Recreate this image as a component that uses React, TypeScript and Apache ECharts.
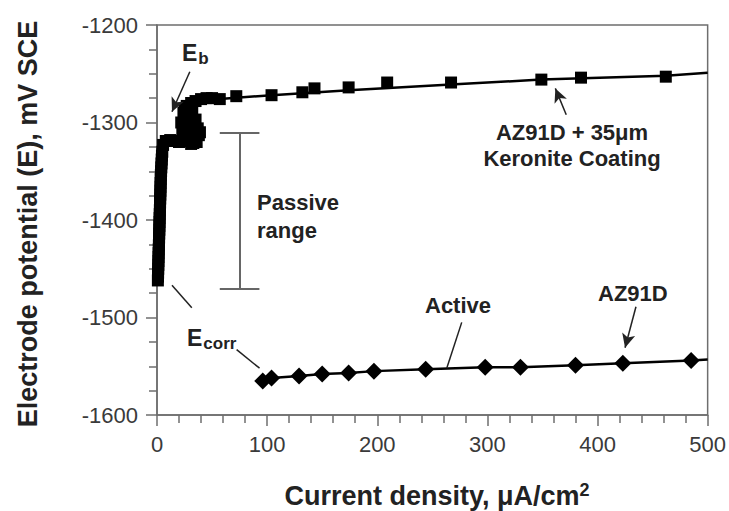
import React, { useEffect, useRef } from "react";
import * as echarts from "echarts";

// Coating (AZ91D + 35µm Keronite) measured points
const coatingCurrent = [
  0.8, 0.9, 1.0, 1.1, 1.2, 1.3, 1.4, 1.5, 1.6, 1.7, 1.8, 1.9, 2.0, 2.1, 2.2, 2.3, 2.4, 2.5,
  2.6, 2.7, 2.8, 2.9, 3.0, 3.1, 3.2, 3.3, 3.4, 3.5, 3.7, 3.9, 4.1, 4.3, 4.5, 4.8,
  5.5, 8, 12, 16, 20, 25, 30, 35, 38, 39, 37, 33, 29, 26, 24, 25, 27, 31, 35, 40, 45, 50,
  22, 25, 30, 33, 28, 35, 32, 23, 36, 31,
  57, 72, 104, 132, 143, 174, 209, 267, 349, 385, 462,
];
const coatingPotential = [
  -1462, -1458, -1454, -1450, -1446, -1442, -1438, -1434, -1430, -1426, -1422, -1418, -1414, -1410, -1406, -1402, -1398, -1394,
  -1390, -1386, -1382, -1378, -1374, -1370, -1366, -1362, -1358, -1354, -1350, -1346, -1342, -1338, -1334, -1330,
  -1323, -1319, -1318, -1319, -1320, -1319, -1318, -1316, -1313, -1310, -1306, -1302, -1298, -1294, -1290, -1286, -1283, -1280, -1278, -1276, -1275, -1275,
  -1300, -1306, -1311, -1321, -1314, -1297, -1290, -1311, -1320, -1322,
  -1276, -1273, -1272, -1269, -1265, -1264, -1259, -1259, -1256, -1254, -1253,
];

// Coating curve (drawn line)
const coatingCurveCurrent = [0.8, 4.8, 8, 30, 38, 37, 29, 24, 27, 35, 45, 57, 104, 174, 267, 349, 462, 500];
const coatingCurvePotential = [-1462, -1330, -1319, -1318, -1313, -1306, -1298, -1290, -1283, -1278, -1275, -1276, -1272, -1267, -1261, -1256, -1252, -1249];

// Bare AZ91D
const az91Current = [96, 104, 129, 150, 174, 197, 244, 298, 330, 380, 423, 485];
const az91Potential = [-1565, -1562, -1560, -1558, -1557, -1555, -1553, -1551, -1551, -1549, -1547, -1544];
const az91LineEnd = [500, -1543];

const xTicks = [0, 100, 200, 300, 400, 500];
const yTicks = [-1600, -1500, -1400, -1300, -1200];

// Annotation geometry in data units
const arrowLines = [
  [[29.8, -1248], [13.6, -1289]], // Eb
  [[434.9, -1489], [425, -1531]], // AZ91D
  [[371.6, -1292], [361.7, -1265]], // coating
];
const plainLines = [
  [[13.6, -1467], [31.6, -1490]], // Ecorr upper
  [[72.3, -1533], [93.1, -1552]], // Ecorr lower
  [[276.7, -1505], [263.1, -1552]], // Active
];
const passiveRange = { x: 75, low: -1470, high: -1310, halfCap: 18 };

const FONT = "'Liberation Sans', Arial, Helvetica, sans-serif";

export default function App() {
  const ref = useRef<HTMLDivElement>(null);
  useEffect(() => {
    if (!ref.current) return;
    const chart = echarts.init(ref.current, undefined, { renderer: "svg" });
    const zip = (a: number[], b: number[]) => a.map((v, i) => [v, b[i]]);
    const axisColor = "#6e6e6e";
    const pr = passiveRange;
    chart.setOption({
      animation: false,
      backgroundColor: "#ffffff",
      grid: {
        left: 157,
        right: 19,
        top: 25,
        bottom: 96,
        show: true,
        borderColor: axisColor,
        borderWidth: 1.5,
        containLabel: false,
      },
      xAxis: {
        type: "value",
        min: xTicks[0],
        max: xTicks[xTicks.length - 1],
        interval: 100,
        axisLine: { show: true, lineStyle: { color: axisColor, width: 1.5 } },
        axisTick: { show: true, inside: false, length: 11, lineStyle: { color: axisColor, width: 1.5 } },
        minorTick: { show: true, splitNumber: 5, length: 8, lineStyle: { color: axisColor, width: 1.5 } },
        splitLine: { show: false },
        axisLabel: { color: "#3a3a3a", fontSize: 22, fontFamily: FONT, margin: 18, formatter: (v: number) => String(v) },
      },
      yAxis: {
        type: "value",
        min: yTicks[0],
        max: yTicks[yTicks.length - 1],
        interval: 100,
        axisLine: { show: true, lineStyle: { color: axisColor, width: 1.5 } },
        axisTick: { show: true, inside: false, length: 11, lineStyle: { color: axisColor, width: 1.5 } },
        minorTick: { show: true, splitNumber: 4, length: 8, lineStyle: { color: axisColor, width: 1.5 } },
        splitLine: { show: false },
        axisLabel: { color: "#3a3a3a", fontSize: 22, fontFamily: FONT, margin: 19, formatter: (v: number) => String(v) },
      },
      series: [
        {
          name: "coating curve",
          type: "line",
          data: zip(coatingCurveCurrent, coatingCurvePotential),
          showSymbol: false,
          symbol: "none",
          clip: false,
          lineStyle: { color: "#000", width: 2.5 },
          silent: true,
          markLine: {
            silent: true,
            symbol: ["none", "arrow"],
            symbolSize: [10, 14],
            label: { show: false },
            lineStyle: { color: "#222", width: 1.5, type: "solid" },
            data: arrowLines.map(([a, b]) => [{ coord: a }, { coord: b }]),
          },
        },
        {
          name: "AZ91D + 35µm Keronite Coating",
          type: "scatter",
          data: zip(coatingCurrent, coatingPotential),
          symbol: "rect",
          symbolSize: 12,
          clip: false,
          itemStyle: { color: "#000", opacity: 1 },
          silent: true,
        },
        {
          name: "AZ91D",
          type: "line",
          data: [
            ...zip(az91Current, az91Potential),
            { value: az91LineEnd, symbol: "none" },
          ],
          symbol: "diamond",
          symbolSize: 17,
          showAllSymbol: true,
          clip: false,
          itemStyle: { color: "#000", opacity: 1 },
          lineStyle: { color: "#000", width: 2.5 },
          silent: true,
          markLine: {
            silent: true,
            symbol: "none",
            label: { show: false },
            lineStyle: { color: "#222", width: 1.5, type: "solid" },
            data: [
              ...plainLines.map(([a, b]) => [{ coord: a }, { coord: b }]),
              [
                { coord: [pr.x, pr.low], lineStyle: { color: "#666", width: 2 } },
                { coord: [pr.x, pr.high] },
              ],
              [
                { coord: [pr.x - pr.halfCap, pr.low], lineStyle: { color: "#666", width: 2 } },
                { coord: [pr.x + pr.halfCap, pr.low] },
              ],
              [
                { coord: [pr.x - pr.halfCap, pr.high], lineStyle: { color: "#666", width: 2 } },
                { coord: [pr.x + pr.halfCap, pr.high] },
              ],
            ],
          },
        },
      ],
      graphic: [
        {
          type: "text",
          x: 28,
          y: 224,
          rotation: Math.PI / 2,
          style: {
            text: "Electrode potential (E), mV SCE",
            font: `bold 27px ${FONT}`,
            fill: "#222",
            align: "center",
            verticalAlign: "middle",
          },
        },
        {
          type: "text",
          x: 437,
          y: 495,
          style: {
            text: "{m|Current density, μA/cm}{s|2}",
            align: "center",
            verticalAlign: "middle",
            rich: {
              m: { font: `bold 27px ${FONT}`, fill: "#222", verticalAlign: "bottom" },
              s: { font: `bold 18px ${FONT}`, fill: "#222", verticalAlign: "top", padding: [0, 0, 10, 0] },
            },
          },
        },
        {
          type: "text",
          x: 182,
          y: 53,
          style: {
            text: "{m|E}{s|b}",
            align: "left",
            verticalAlign: "middle",
            rich: {
              m: { font: `bold 23px ${FONT}`, fill: "#222" },
              s: { font: `bold 17px ${FONT}`, fill: "#222", padding: [10, 0, 0, 1] },
            },
          },
        },
        {
          type: "text",
          x: 187,
          y: 338,
          style: {
            text: "{m|E}{s|corr}",
            align: "left",
            verticalAlign: "middle",
            rich: {
              m: { font: `bold 23px ${FONT}`, fill: "#222" },
              s: { font: `bold 17px ${FONT}`, fill: "#222", padding: [10, 0, 0, 1] },
            },
          },
        },
        {
          type: "text",
          x: 257,
          y: 202,
          style: { text: "Passive", font: `bold 22px ${FONT}`, fill: "#222", align: "left", verticalAlign: "middle" },
        },
        {
          type: "text",
          x: 257,
          y: 230,
          style: { text: "range", font: `bold 22px ${FONT}`, fill: "#222", align: "left", verticalAlign: "middle" },
        },
        {
          type: "text",
          x: 425,
          y: 305,
          style: { text: "Active", font: `bold 22px ${FONT}`, fill: "#222", align: "left", verticalAlign: "middle" },
        },
        {
          type: "text",
          x: 598,
          y: 293,
          style: { text: "AZ91D", font: `bold 22px ${FONT}`, fill: "#222", align: "left", verticalAlign: "middle" },
        },
        {
          type: "text",
          x: 572,
          y: 132,
          style: { text: "AZ91D + 35μm", font: `bold 22px ${FONT}`, fill: "#222", align: "center", verticalAlign: "middle" },
        },
        {
          type: "text",
          x: 572,
          y: 158,
          style: { text: "Keronite Coating", font: `bold 22px ${FONT}`, fill: "#222", align: "center", verticalAlign: "middle" },
        },
      ],
    });
    return () => chart.dispose();
  }, []);
  return <div ref={ref} style={{ width: 729, height: 511, position: "absolute", left: 0, top: 0 }} />;
}
